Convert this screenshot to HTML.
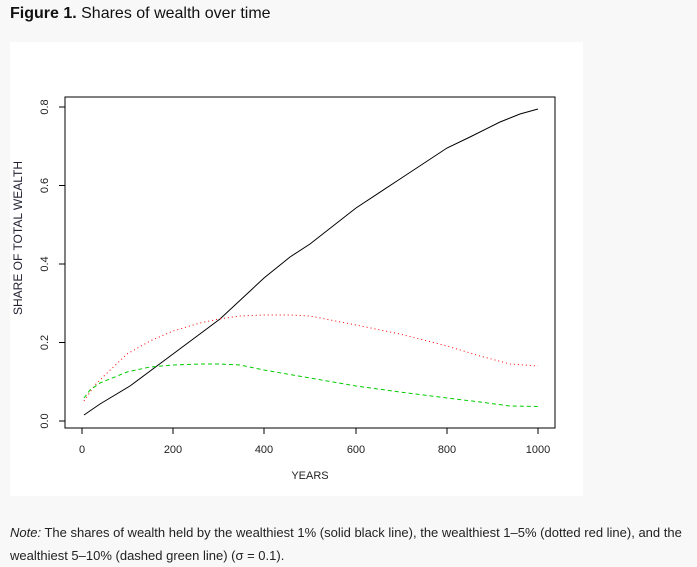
<!DOCTYPE html>
<html><head><meta charset="utf-8"><style>
html,body{margin:0;padding:0;background:#f8f8f8;width:697px;height:566px;overflow:hidden;font-family:"Liberation Sans",Arial,sans-serif;}
.t{position:absolute;left:10px;top:5px;font-size:16px;color:#111;}
.n{position:absolute;left:10px;top:521px;font-size:13px;color:#222;line-height:23px;width:685px;}
svg{position:absolute;left:0;top:0;}
</style></head><body>
<div class="t"><b>Figure 1.</b> Shares of wealth over time</div>
<svg width="697" height="566" font-family="Liberation Sans, Arial, sans-serif" font-size="11">
<rect x="10" y="42" width="573" height="454" fill="#fff"/>
<rect x="65" y="97" width="490" height="331" fill="none" stroke="#000" stroke-width="1"/>
<g stroke="#000">
<line x1="82" y1="428" x2="82" y2="434"/><line x1="173" y1="428" x2="173" y2="434"/><line x1="264" y1="428" x2="264" y2="434"/><line x1="356" y1="428" x2="356" y2="434"/><line x1="447" y1="428" x2="447" y2="434"/><line x1="538" y1="428" x2="538" y2="434"/>
<line x1="59" y1="421" x2="65" y2="421"/><line x1="59" y1="342.5" x2="65" y2="342.5"/><line x1="59" y1="264" x2="65" y2="264"/><line x1="59" y1="185.5" x2="65" y2="185.5"/><line x1="59" y1="107" x2="65" y2="107"/>
</g>
<g text-anchor="middle" fill="#222">
<text x="82" y="453">0</text><text x="173" y="453">200</text><text x="264" y="453">400</text><text x="356" y="453">600</text><text x="447" y="453">800</text><text x="538" y="453">1000</text>
<text x="310" y="479">YEARS</text>
<text transform="translate(48,421) rotate(-90)">0.0</text>
<text transform="translate(48,342.5) rotate(-90)">0.2</text>
<text transform="translate(48,264) rotate(-90)">0.4</text>
<text transform="translate(48,185.5) rotate(-90)">0.6</text>
<text transform="translate(48,107) rotate(-90)">0.8</text>
<text transform="translate(22,238) rotate(-90)" fill="#223" font-size="12">SHARE OF TOTAL WEALTH</text>
</g>
<polyline fill="none" stroke="#000" stroke-width="1" points="84,415 100,404 130,386 173,354 220,319 264,278 290,257 310,244 356,208 400,179 447,148 470,137 500,122 520,114 538,109"/>
<polyline fill="none" stroke="#f00" stroke-width="1" stroke-dasharray="1,3" points="84,401 95,385 105,375 127,354 150,341 173,331 200,323 219,319 240,316 264,315 290,315 310,316 356,325 400,334 447,346 480,356 510,364 538,366"/>
<polyline fill="none" stroke="#0c0" stroke-width="1" stroke-dasharray="4,3" points="84,398 90,390 100,383 127,372 150,367 173,365 200,364 219,364 240,365 264,370 310,378 356,386 400,392 447,398 480,402 510,406 538,406.5"/>
</svg>
<div class="n"><i>Note:</i> The shares of wealth held by the wealthiest 1% (solid black line), the wealthiest 1–5% (dotted red line), and the wealthiest 5–10% (dashed green line) (σ = 0.1).</div>
</body></html>
